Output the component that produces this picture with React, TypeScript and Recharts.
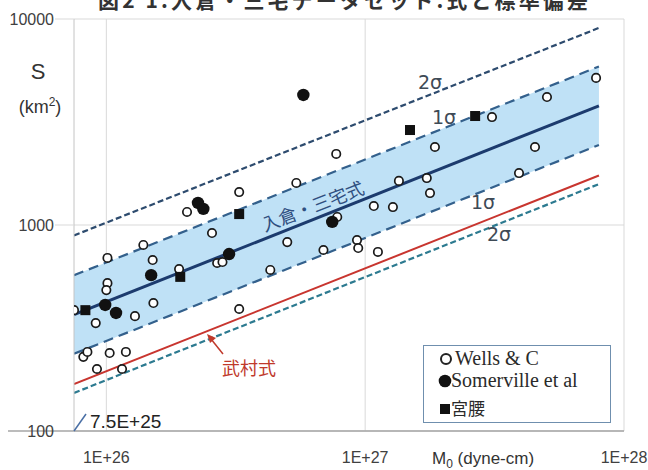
import React from 'react';
import { ComposedChart, XAxis, YAxis, CartesianGrid, Line, Area, Scatter, Legend } from 'recharts';

// axes
const xTicks = [1e26, 1e27, 1e28];
const xTickLabels = ['1E+26', '1E+27', '1E+28'];
const yTicks = [100, 1000, 10000];
const yTickLabels = ['100', '1000', '10000'];

// scaling relations (end points, M0 in dyne-cm, S in km2)
const lineM0 = [7.5e25, 8e27];
const meanS = [367, 3790];
const plus1S = [570, 5880];
const plus2S = [890, 9050];
const minus1S = [237, 2445];
const minus2S = [153, 1580];
const takemuraS = [169, 1740];

// Wells & Coppersmith
const wellsM0 = [7.5e25, 9.1e25, 1.01e26, 1.01e26, 1.0e26, 1.39e26, 1.51e26, 1.52e26, 1.29e26, 2.05e26,
  2.56e26, 3.26e26, 3.26e26, 2.68e26, 2.81e26, 1.91e26, 4.3e26, 5.0e26, 5.42e26, 6.9e26, 7.73e26, 7.8e26,
  9.3e26, 9.4e26, 1.12e27, 1.08e27, 1.28e27, 1.35e27, 1.73e27, 1.78e27, 1.86e27, 3.09e27, 3.93e27,
  4.53e27, 5.04e27, 7.8e27, 8.15e25, 8.45e25, 1.03e26, 1.19e26, 9.2e25, 1.15e26];
const wellsS = [386, 334, 692, 522, 483, 800, 676, 418, 361, 1157,
  914, 1445, 391, 654, 661, 611, 605, 826, 1600, 756, 2213, 1094,
  845, 773, 740, 1236, 1222, 1637, 1690, 1429, 2392, 3342, 1787,
  2392, 4180, 5176, 229, 242, 239, 242, 200, 200];

// Somerville et al
const somM0 = [9.9e25, 1.09e26, 1.49e26, 2.98e26, 2.26e26, 2.37e26, 7.46e26, 5.77e26];
const somS = [409, 374, 571, 723, 1279, 1197, 1035, 4278];

// 宮腰
const miyM0 = [8.3e25, 1.93e26, 3.26e26, 1.49e27, 2.66e27];
const miyS = [386, 560, 1130, 2891, 3381];

const lineData = lineM0.map((m, i) => ({
  m,
  mean: meanS[i],
  p1: plus1S[i],
  p2: plus2S[i],
  m1: minus1S[i],
  m2: minus2S[i],
  take: takemuraS[i],
  band: [minus1S[i], plus1S[i]],
}));
const toPts = (ms: number[], ss: number[]) => ms.map((m, i) => ({ m, s: ss[i] }));
const wellsData = toPts(wellsM0, wellsS);
const somData = toPts(somM0, somS);
const miyData = toPts(miyM0, miyS);

const openCircle = (p: any) => (
  <circle cx={p.cx} cy={p.cy} r={4.2} fill="#fff" stroke="#1a1a1a" strokeWidth={1.7} />
);
const filledCircle = (p: any) => <circle cx={p.cx} cy={p.cy} r={6.2} fill="#111" />;
const square = (p: any) => <rect x={p.cx - 5} y={p.cy - 5} width={10} height={10} fill="#111" />;

const XTick = (p: any) => {
  const i = xTicks.indexOf(p.payload.value);
  return (
    <text x={p.x} y={463} textAnchor="middle" fontSize={16} fill="#404040" fontFamily="Liberation Sans, Arial">
      {xTickLabels[i]}
    </text>
  );
};

const YTick = (p: any) => {
  const v = p.payload.value;
  const i = yTicks.indexOf(v);
  const start = v === 100 ? 8 : 55;
  return (
    <g>
      <line x1={start} x2={74} y1={p.y} y2={p.y} stroke={v === 100 ? '#a6a6a6' : '#d9d9d9'} strokeWidth={v === 100 ? 1.5 : 1} />
      <text x={54} y={p.y} dy="0.35em" textAnchor="end" fontSize={16} fill="#404040" fontFamily="Liberation Sans, Arial">
        {yTickLabels[i]}
      </text>
    </g>
  );
};

const LegendBox = () => (
  <div style={{ width: 188, height: 78, boxSizing: 'border-box', border: '1.5px solid #6f8fae', background: '#fff' }}>
    <svg width={185} height={75} style={{ display: 'block' }}>
      <circle cx={22} cy={13} r={5} fill="#fff" stroke="#222" strokeWidth={2} />
      <text x={31} y={19} fontSize={20} fill="#2a2a2a" fontFamily="Liberation Serif, serif">Wells &amp; C</text>
      <circle cx={21} cy={35} r={6.3} fill="#111" />
      <text x={27} y={41} fontSize={20} fill="#2a2a2a" fontFamily="Liberation Serif, serif">Somerville et al</text>
      <rect x={16} y={58} width={10} height={10} fill="#111" />
      <text x={27} y={69} fontSize={17} fill="#2a2a2a" fontFamily="Noto Sans CJK JP, serif">宮腰</text>
    </svg>
  </div>
);

export default function App() {
  return (
    <div style={{ position: 'absolute', left: 0, top: 0, width: 648, height: 470, background: '#fff' }}>
      <ComposedChart width={648} height={470} data={lineData} margin={{ top: 19, right: 24, bottom: 0, left: 0 }}>
        <CartesianGrid stroke="#d9d9d9" horizontalValues={yTicks} verticalValues={xTicks} />
        <XAxis
          dataKey="m"
          type="number"
          scale="log"
          domain={[7.5e25, 1e28]}
          ticks={xTicks}
          allowDataOverflow
          height={39}
          tickLine={false}
          axisLine={{ stroke: '#a6a6a6', strokeWidth: 1.5 }}
          tick={XTick}
          interval={0}
        />
        <YAxis
          dataKey="s"
          type="number"
          scale="log"
          domain={[100, 10000]}
          ticks={yTicks}
          allowDataOverflow
          width={74}
          tickLine={false}
          axisLine={{ stroke: '#c4c4c4' }}
          tick={YTick}
          interval={0}
        />
        <Area dataKey="band" type="linear" fill="#bfe1f6" fillOpacity={1} stroke="none" isAnimationActive={false} />
        <Line dataKey="p2" type="linear" stroke="#2d4b6e" strokeWidth={2.2} strokeDasharray="6 3" dot={false} isAnimationActive={false} />
        <Line dataKey="p1" type="linear" stroke="#33608c" strokeWidth={2.2} strokeDasharray="10 6" dot={false} isAnimationActive={false} />
        <Line dataKey="m1" type="linear" stroke="#33608c" strokeWidth={2.2} strokeDasharray="10 6" dot={false} isAnimationActive={false} />
        <Line dataKey="m2" type="linear" stroke="#2c7a90" strokeWidth={2.2} strokeDasharray="6 3" dot={false} isAnimationActive={false} />
        <Line dataKey="take" type="linear" stroke="#c8352f" strokeWidth={2} dot={false} isAnimationActive={false} />
        <Line dataKey="mean" type="linear" stroke="#1c3b6e" strokeWidth={3} dot={false} isAnimationActive={false} />
        <Scatter name="Wells & C" data={wellsData} dataKey="s" shape={openCircle} isAnimationActive={false} />
        <Scatter name="Somerville et al" data={somData} dataKey="s" shape={filledCircle} isAnimationActive={false} />
        <Scatter name="宮腰" data={miyData} dataKey="s" shape={square} isAnimationActive={false} />
        <Legend
          layout="vertical"
          align="center"
          verticalAlign="middle"
          content={LegendBox}
          wrapperStyle={{ position: 'absolute', left: 423, top: 345, width: 188, height: 78 }}
        />
      </ComposedChart>
      <svg width={648} height={470} style={{ position: 'absolute', left: 0, top: 0, pointerEvents: 'none' }}>
        <text x={343} y={8} textAnchor="middle" fontSize={21} fontWeight="bold" fill="#333"
          fontFamily="Noto Sans CJK JP, sans-serif" textLength={490} lengthAdjust="spacing">
          図2 1.入倉・三宅データセット:式と標準偏差
        </text>
        <text x={38} y={79} textAnchor="middle" fontSize={22} fill="#333" fontFamily="Liberation Sans, Arial">S</text>
        <text x={40} y={113} textAnchor="middle" fontSize={18} fill="#333" fontFamily="Liberation Sans, Arial">
          (km<tspan dy={-7} fontSize={12}>2</tspan><tspan dy={7}>)</tspan>
        </text>
        <text x={432} y={464} fontSize={17} fill="#333" fontFamily="Liberation Sans, Arial">
          M<tspan dy={4} fontSize={12}>0</tspan><tspan dy={-4}> (dyne-cm)</tspan>
        </text>
        <g fontFamily="DejaVu Sans, sans-serif" fontSize={19} fill="#3e4a56" textAnchor="middle">
          <text x={430} y={89}>2σ</text>
          <text x={444} y={124}>1σ</text>
          <text x={483} y={209}>1σ</text>
          <text x={499} y={241}>2σ</text>
        </g>
        <text x={313} y={213} textAnchor="middle" fontSize={18} fill="#2f4f80" fontFamily="Noto Sans CJK JP, sans-serif"
          transform="rotate(-21 313 207)">入倉・三宅式</text>
        <text x={249} y={375} textAnchor="middle" fontSize={18} fill="#c0392b" fontFamily="Noto Sans CJK JP, sans-serif">武村式</text>
        <line x1={223} y1={354} x2={211} y2={339} stroke="#c0392b" strokeWidth={1.5} />
        <polygon points="207,334 216,338 210,343" fill="#c0392b" />
        <line x1={74} y1={431} x2={86} y2={414} stroke="#4a6fa5" strokeWidth={1.5} />
        <text x={90} y={428} fontSize={19} fill="#222" fontFamily="Liberation Sans, Arial">7.5E+25</text>
      </svg>
    </div>
  );
}
